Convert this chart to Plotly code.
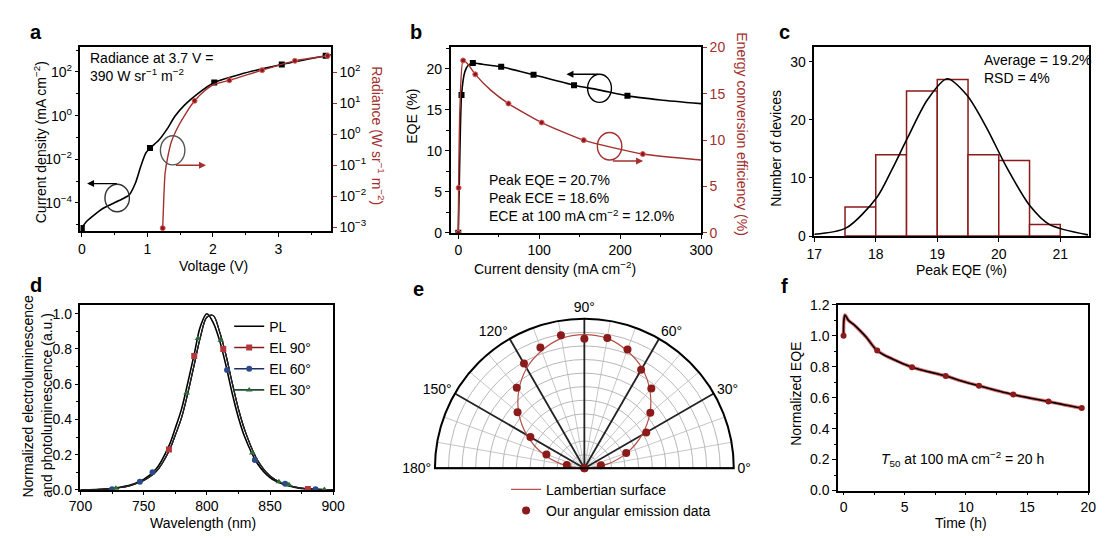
import plotly.graph_objects as go

# ---------------- data ----------------
# (a) J-V and radiance-V
volt_J = [0, 0.075, 0.32, 0.57, 0.72, 0.82, 0.9, 0.975, 1.04, 1.17, 1.3, 1.42, 1.57, 1.77, 2.02, 2.42, 3.05, 3.72, 3.8]
curr_J = [7.2e-6, 1.45e-5, 5.6e-5, 1.3e-4, 2.3e-4, 8.5e-4, 4.8e-3, 1.9e-2, 3.3e-2, 7.2e-2, 0.24, 0.93, 3.1, 10.2, 33, 79, 219, 550, 617]
volt_J_mk = [0, 1.04, 2.02, 3.05, 3.72]
curr_J_mk = [7.2e-6, 3.3e-2, 33, 219, 550]
volt_R = [1.234, 1.25, 1.27, 1.31, 1.37, 1.47, 1.6, 1.72, 1.87, 2.02, 2.25, 2.75, 3.25, 3.75]
rad_R = [9.3e-4, 8.1e-3, 5.5e-2, 0.18, 0.6, 1.78, 5.2, 12, 25, 41, 55, 117, 234, 340]
volt_R_mk = [1.234, 1.72, 2.25, 2.75, 3.25, 3.75]
rad_R_mk = [9.3e-4, 12, 55, 117, 234, 340]

# (b) EQE and ECE vs current density
cd_eqe = [0, 2, 4, 8, 12, 18, 30, 53, 93, 143, 175, 209, 250, 300]
eqe = [0, 10, 16.8, 19.6, 20.4, 20.7, 20.55, 20.25, 19.27, 18.0, 17.4, 16.7, 16.2, 15.75]
cd_eqe_mk = [0, 4, 18, 53, 93, 143, 209]
eqe_mk = [0, 16.8, 20.7, 20.25, 19.27, 18.0, 16.7]
cd_ece = [0, 0.4, 2, 6, 12, 21, 40, 62, 103, 155, 228, 300]
ece = [0, 4.85, 13.5, 18.6, 18.2, 17.1, 15.4, 13.95, 11.9, 10.0, 8.5, 7.86]
cd_ece_mk = [0, 0.4, 6, 21, 62, 103, 155, 228]
ece_mk = [0, 4.85, 18.6, 17.1, 13.95, 11.9, 10.0, 8.5]

# (c) histogram of peak EQE
bin_centers = [17.75, 18.25, 18.75, 19.25, 19.75, 20.25, 20.75]
bin_counts = [5, 14, 25, 27, 14, 13, 2]
fit_x = [17.0, 17.52, 18.02, 18.26, 18.52, 18.84, 19.16, 19.48, 19.8, 20.12, 20.5, 20.82, 21.45]
fit_y = [0.3, 1.4, 6.7, 11.4, 17.0, 23.5, 27.1, 24.3, 18.7, 12.0, 5.3, 2.0, 0.2]

# (d) spectra
wl = [700, 720, 730, 740, 750, 760, 770, 775, 780, 785, 790, 795, 800, 805, 810, 815, 820, 825, 830, 840, 850, 860, 870, 880, 900]
pl = [0, 0.005, 0.014, 0.03, 0.06, 0.12, 0.25, 0.35, 0.46, 0.61, 0.77, 0.93, 1.0, 0.95, 0.85, 0.71, 0.55, 0.41, 0.30, 0.15, 0.07, 0.033, 0.014, 0.005, 0]
el = [0, 0.004, 0.012, 0.026, 0.053, 0.105, 0.22, 0.31, 0.41, 0.55, 0.71, 0.87, 0.98, 0.99, 0.90, 0.77, 0.61, 0.46, 0.34, 0.17, 0.08, 0.038, 0.016, 0.006, 0]
el90_wl = [770, 790, 813, 880]
el90_y = [0.23, 0.76, 0.80, 0.005]
el60_wl = [725, 747, 757, 816, 838, 862, 886]
el60_y = [0.004, 0.046, 0.10, 0.68, 0.17, 0.035, 0.004]
el30_wl = [728, 784, 793, 811, 836, 857, 865, 893]
el30_y = [0.01, 0.55, 0.86, 0.85, 0.21, 0.046, 0.03, 0.002]

# (e) angular emission
theta = [0, 10, 20, 30, 40, 50, 60, 70, 80, 90, 100, 110, 120, 130, 140, 150, 160, 170, 180]
lambert = [0, 0.17, 0.336, 0.49, 0.63, 0.75, 0.85, 0.92, 0.97, 0.983, 0.97, 0.92, 0.85, 0.75, 0.63, 0.49, 0.336, 0.17, 0]
measured = [0, 0.124, 0.328, 0.526, 0.634, 0.767, 0.836, 0.929, 0.974, 0.952, 0.993, 0.946, 0.889, 0.774, 0.642, 0.459, 0.297, 0.131, 0]
spoke_angles = [0, 30, 60, 90, 120, 150, 180]
thin_spoke_angles = [10, 20, 40, 50, 70, 80, 100, 110, 130, 140, 160, 170]
angle_labels = ["0°", "30°", "60°", "90°", "120°", "150°", "180°"]

# (f) stability
t_h = [0, 0.03, 0.12, 0.4, 0.8, 1.33, 1.87, 2.75, 4.0, 5.6, 7.0, 8.35, 9.7, 11.07, 12.5, 13.87, 15.3, 16.75, 18.1, 19.47]
neqe = [1.0, 1.1, 1.135, 1.1, 1.075, 1.035, 0.99, 0.905, 0.85, 0.797, 0.767, 0.74, 0.707, 0.677, 0.647, 0.62, 0.597, 0.575, 0.553, 0.533]
t_mk = [0, 2.75, 5.6, 8.35, 11.07, 13.87, 16.75, 19.47]
neqe_mk = [1.0, 0.905, 0.797, 0.74, 0.677, 0.62, 0.575, 0.533]

# ---------------- helpers ----------------
W, H = 1110, 538
def X(px): return px / W
def Y(py): return 1 - py / H

FONT = "Liberation Sans, Arial, sans-serif"
RED = "#a3302e"
DRED = "#8b1a1a"
FS = 14

fig = go.Figure()

# ---- (a)
fig.add_trace(go.Scatter(x=volt_J, y=curr_J, xaxis="x", yaxis="y", mode="lines",
                         line=dict(color="black", width=1.6, shape="spline", smoothing=0.6), showlegend=False))
fig.add_trace(go.Scatter(x=volt_J_mk, y=curr_J_mk, xaxis="x", yaxis="y", mode="markers",
                         marker=dict(symbol="square", size=6, color="black"), showlegend=False))
fig.add_trace(go.Scatter(x=volt_R, y=rad_R, xaxis="x", yaxis="y2", mode="lines",
                         line=dict(color=RED, width=1.4, shape="spline", smoothing=0.5), showlegend=False))
fig.add_trace(go.Scatter(x=volt_R_mk, y=rad_R_mk, xaxis="x", yaxis="y2", mode="markers",
                         marker=dict(symbol="circle", size=5, color=DRED, line=dict(color="#e06060", width=1)), showlegend=False))

# ---- (b)
fig.add_trace(go.Scatter(x=cd_eqe, y=eqe, xaxis="x2", yaxis="y3", mode="lines",
                         line=dict(color="black", width=1.6, shape="spline", smoothing=0.6), showlegend=False))
fig.add_trace(go.Scatter(x=cd_eqe_mk, y=eqe_mk, xaxis="x2", yaxis="y3", mode="markers",
                         marker=dict(symbol="square", size=6, color="black"), showlegend=False))
fig.add_trace(go.Scatter(x=cd_ece, y=ece, xaxis="x2", yaxis="y4", mode="lines",
                         line=dict(color=RED, width=1.4, shape="spline", smoothing=0.6), showlegend=False))
fig.add_trace(go.Scatter(x=cd_ece_mk, y=ece_mk, xaxis="x2", yaxis="y4", mode="markers",
                         marker=dict(symbol="circle", size=5, color=DRED, line=dict(color="#e06060", width=1)), showlegend=False))

# ---- (c)
fig.add_trace(go.Bar(x=bin_centers, y=bin_counts, width=0.5, xaxis="x3", yaxis="y5",
                     marker=dict(color="white", line=dict(color=DRED, width=1.5)), showlegend=False))
fig.add_trace(go.Scatter(x=fit_x, y=fit_y, xaxis="x3", yaxis="y5", mode="lines",
                         line=dict(color="black", width=1.6, shape="spline", smoothing=0.8), showlegend=False))

# ---- (d)
fig.add_trace(go.Scatter(x=wl, y=pl, xaxis="x4", yaxis="y6", mode="lines",
                         line=dict(color="black", width=1.6, shape="spline"), showlegend=False))
el_styles = [("EL 90°", "#7a2020", "#b5373b", "square", el90_wl, el90_y),
             ("EL 60°", "#1c2f5e", "#2a4a8c", "circle", el60_wl, el60_y),
             ("EL 30°", "#214d2c", "#2f6b3a", "triangle-up", el30_wl, el30_y)]
for name, lc, mc, sym, mx, my in el_styles:
    fig.add_trace(go.Scatter(x=wl, y=el, xaxis="x4", yaxis="y6", mode="lines",
                             line=dict(color="#222222", width=1.2, shape="spline"), showlegend=False))
for name, lc, mc, sym, mx, my in el_styles:
    fig.add_trace(go.Scatter(x=mx, y=my, xaxis="x4", yaxis="y6", mode="markers",
                             marker=dict(symbol=sym, size=6, color=mc), showlegend=False))
# legend entries (d)
fig.add_trace(go.Scatter(x=[None], y=[None], xaxis="x4", yaxis="y6", mode="lines", name="PL",
                         line=dict(color="black", width=1.6), legend="legend"))
for name, lc, mc, sym, mx, my in el_styles:
    fig.add_trace(go.Scatter(x=[None], y=[None], xaxis="x4", yaxis="y6", mode="lines+markers", name=name,
                             line=dict(color=lc, width=1.6), marker=dict(symbol=sym, size=6, color=mc),
                             legend="legend"))

# ---- (e)
for a in thin_spoke_angles:
    fig.add_trace(go.Scatterpolar(r=[0, 1.1], theta=[a, a], mode="lines",
                                  line=dict(color="#b8b8b8", width=0.8), showlegend=False, hoverinfo="skip"))
for a in spoke_angles:
    fig.add_trace(go.Scatterpolar(r=[0, 1.1], theta=[a, a], mode="lines",
                                  line=dict(color="#222222", width=1.8), showlegend=False, hoverinfo="skip"))
fig.add_trace(go.Scatterpolar(r=lambert, theta=theta, mode="lines", name="Lambertian surface",
                              line=dict(color="#b5524a", width=1.2, shape="spline"), legend="legend2"))
fig.add_trace(go.Scatterpolar(r=measured, theta=theta, mode="markers", name="Our angular emission data",
                              marker=dict(color=DRED, size=8), legend="legend2"))

# ---- (f)
fig.add_trace(go.Scatter(x=t_h, y=neqe, xaxis="x5", yaxis="y7", mode="lines",
                         line=dict(color="#e07070", width=3.5, shape="spline"), showlegend=False))
fig.add_trace(go.Scatter(x=t_h, y=neqe, xaxis="x5", yaxis="y7", mode="lines",
                         line=dict(color="black", width=1.6, shape="spline"), showlegend=False))
fig.add_trace(go.Scatter(x=t_mk, y=neqe_mk, xaxis="x5", yaxis="y7", mode="markers",
                         marker=dict(color=DRED, size=6), showlegend=False))

# ---------------- axes ----------------
def ax(**kw):
    d = dict(showline=True, linecolor="black", linewidth=1.5, mirror=True, ticks="outside",
             ticklen=4, tickwidth=1.2, tickcolor="black", showgrid=False, zeroline=False,
             tickfont=dict(size=FS, color="black", family=FONT))
    d.update(kw)
    return d

minor = lambda dt: dict(ticks="outside", ticklen=2.5, tickwidth=1, dtick=dt, tickcolor="black")

layout = dict(
    width=W, height=H, margin=dict(l=0, r=0, t=0, b=0),
    paper_bgcolor="white", plot_bgcolor="white",
    font=dict(family=FONT, size=FS, color="black"),
    barmode="overlay",
    xaxis=ax(domain=[X(70), X(326)], anchor="y", range=[-0.02, 3.8], dtick=1, minor=minor(0.5)),
    yaxis=ax(domain=[Y(230), Y(40.7)], anchor="x", type="log", range=[-5.29, 3.12],
             tickmode="array", tickvals=[1e2, 1, 1e-2, 1e-4],
             ticktext=["10<sup>2</sup>", "10<sup>0</sup>", "10<sup>−2</sup>", "10<sup>−4</sup>"],
             minor=dict(ticks="outside", ticklen=2.5, tickwidth=1, tickcolor="black",
                        tickvals=[1e-5, 1e-3, 1e-1, 10, 1e3])),
    yaxis2=ax(overlaying="y", side="right", anchor="x", type="log", range=[-3.13, 2.80], mirror=False,
              tickmode="array", tickvals=[1e2, 10, 1, 0.1, 1e-2, 1e-3], tickcolor=RED,
              ticktext=["10<sup>2</sup>", "10<sup>1</sup>", "10<sup>0</sup>", "10<sup>−1</sup>",
                        "10<sup>−2</sup>", "10<sup>−3</sup>"]),
    xaxis2=ax(domain=[X(448.3), X(704.3)], anchor="y3", range=[-9.5, 300], dtick=100, minor=minor(50)),
    yaxis3=ax(domain=[Y(231.7), Y(40.7)], anchor="x2", range=[0, 22.6], dtick=5, minor=minor(2.5)),
    yaxis4=ax(overlaying="y3", side="right", anchor="x2", range=[0, 20], dtick=5, mirror=False,
              tickcolor=RED, tickfont=dict(size=FS, color=RED, family=FONT)),
    xaxis3=ax(domain=[X(820), X(1101)], anchor="y5", range=[17, 21.47], dtick=1),
    yaxis5=ax(domain=[Y(235), Y(40.7)], anchor="x3", range=[0, 32.5], dtick=10),
    xaxis4=ax(domain=[X(70), X(328.3)], anchor="y6", range=[700, 900], dtick=50, minor=minor(25), ticklen=3),
    yaxis6=ax(domain=[Y(496.7), Y(306)], anchor="x4", range=[0, 1.05], dtick=0.2, tickformat=".1f",
              minor=minor(0.1)),
    xaxis5=ax(domain=[X(844.3), X(1100)], anchor="y7", range=[-0.45, 20], dtick=5, minor=minor(2.5), ticklen=3),
    yaxis7=ax(domain=[Y(497.3), Y(306)], anchor="x5", range=[0, 1.2], dtick=0.2, tickformat=".1f",
              minor=minor(0.1)),
    polar=dict(domain=dict(x=[X(431), X(739)], y=[Y(474.3), Y(320.3)]), sector=[0, 180], bgcolor="white",
               radialaxis=dict(range=[0, 1.1], dtick=0.1, showticklabels=False, ticks="", showline=False,
                               gridcolor="#b8b8b8", gridwidth=0.8),
               angularaxis=dict(direction="counterclockwise", rotation=0, tickmode="array",
                                tickvals=spoke_angles, ticktext=angle_labels, showgrid=False,
                                showline=True, linecolor="black", linewidth=2,
                                ticks="", tickfont=dict(size=FS, color="black"))),
    legend=dict(x=X(222), y=Y(312), xanchor="left", yanchor="top", bgcolor="rgba(0,0,0,0)",
                font=dict(size=FS), itemwidth=30, tracegroupgap=0),
    legend2=dict(x=X(505), y=Y(480), xanchor="left", yanchor="top", bgcolor="rgba(0,0,0,0)",
                 font=dict(size=FS), itemwidth=30, tracegroupgap=0),
)
fig.update_layout(**layout)

# ---------------- annotations ----------------
ann = []
def text(px, py, s, size=FS, color="black", angle=0, xanchor="center", bold=False):
    if bold:
        s = f"<b>{s}</b>"
    ann.append(dict(x=X(px), y=Y(py), xref="paper", yref="paper", text=s, showarrow=False,
                    font=dict(size=size, color=color, family=FONT), textangle=angle,
                    xanchor=xanchor, yanchor="middle", align="left"))

# panel letters
for lab, px, py in [("a", 25, 25), ("b", 413, 25), ("c", 790, 25), ("d", 25, 285), ("e", 415, 290), ("f", 790, 287)]:
    text(px, py, lab, size=20, bold=True)

# axis titles
text(29, 138, "Current density (mA cm<sup>−2</sup>)", angle=-90)
text(206, 266, "Voltage (V)")
text(374, 132, "Radiance (W sr<sup>−1</sup> m<sup>−2</sup>)", color=RED, angle=90)
text(409, 112, "EQE (%)", angle=-90)
text(746, 130, "Energy conversion efficiency (%)", color=RED, angle=90)
text(555, 268, "Current density (mA cm<sup>−2</sup>)")
text(781, 145, "Number of devices", angle=-90)
text(970, 270, "Peak EQE (%)")
text(26, 400, "Normalized electroluminescence<br>and photoluminescence (a.u.)", angle=-90)
text(195, 530.5, "Wavelength (nm)")
text(801, 398, "Normalized EQE", angle=-90)
text(970, 530.5, "Time (h)")

# in-plot texts
text(78, 61, "Radiance at 3.7 V =<br>390 W sr<sup>−1</sup> m<sup>−2</sup>", xanchor="left")
text(485, 196, "Peak EQE = 20.7%<br>Peak ECE = 18.6%<br>ECE at 100 mA cm<sup>−2</sup> = 12.0%", xanchor="left")
text(991, 63, "Average = 19.2%<br>RSD = 4%", xanchor="left")
text(886, 465, "<i>T</i><sub>50</sub> at 100 mA cm<sup>−2</sup> = 20 h", xanchor="left")

# arrows
def arrow(hx, hy, tx, ty, color):
    ann.append(dict(x=X(hx), y=Y(hy), xref="paper", yref="paper", ax=tx - hx, ay=ty - hy,
                    text="", showarrow=True, arrowhead=2, arrowsize=1, arrowwidth=1.4, arrowcolor=color))
arrow(76.7, 181, 108, 181, "black")
arrow(198.3, 162, 166.7, 162, RED)
arrow(566.7, 68.3, 600, 68.3, "black")
arrow(645, 157.7, 613.3, 157.7, RED)
fig.update_layout(annotations=ann)

# ellipses
shapes = []
def ellipse(x0, y0, x1, y1, color):
    shapes.append(dict(type="circle", xref="paper", yref="paper", x0=X(x0), x1=X(x1), y0=Y(y1), y1=Y(y0),
                       line=dict(color=color, width=1.4)))
ellipse(95, 181.7, 120, 210, "#333333")
ellipse(151.7, 131.7, 176.7, 161.7, "#555555")
ellipse(588.3, 68.3, 612.7, 97.3, "black")
ellipse(598.3, 128.3, 623.3, 156.7, RED)
fig.update_layout(shapes=shapes)

fig.write_html("out.html")
